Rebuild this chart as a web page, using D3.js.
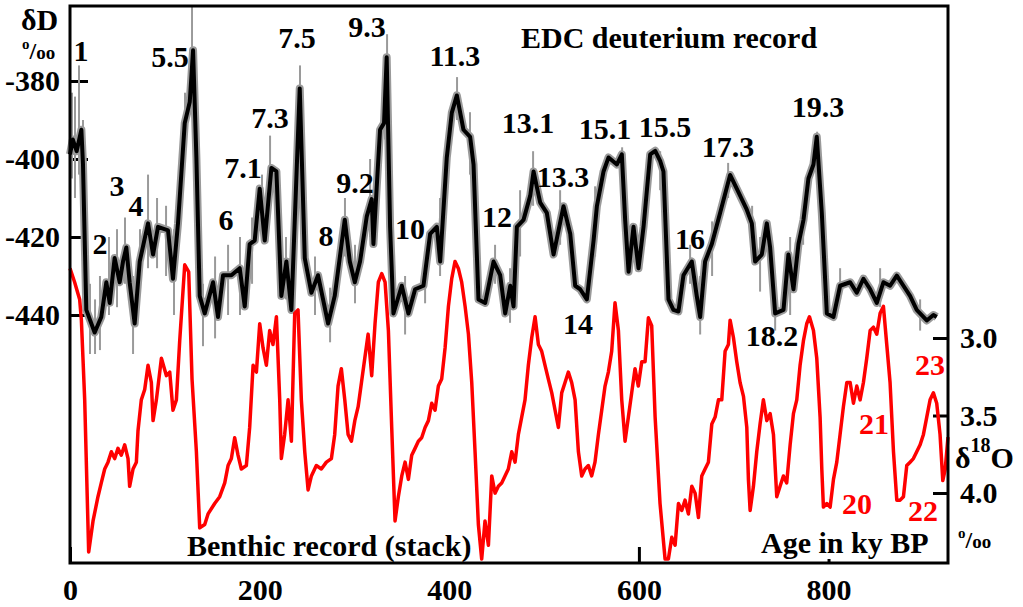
<!DOCTYPE html>
<html><head><meta charset="utf-8">
<script src="https://cdn.jsdelivr.net/npm/d3@7"></script>
<style>
body{margin:0;background:#fff}
svg{display:block}
text{font-family:"Liberation Serif","Times New Roman",serif;font-weight:bold}
</style>
</head><body>
<svg id="c" width="1023" height="607"></svg>
<script>
// ---- data ----
const blackAge=[0,3,7,12,13.7,17.2,26,33,38.3,41.9,47.1,52.4,55.9,59.4,62.9,68.2,73.5,82.3,87.6,92.8,103.4,108.6,113.9,121,126.3,129.8,133.3,136.8,142.1,150.9,156.1,161.4,170.2,179,184.3,189.5,194.8,200.1,205.4,212.4,217.7,222.9,228.2,233.5,242.3,247.6,254.6,261.6,272.2,279.2,289.8,295.1,300.4,305.9,313,318.2,320,327,331.2,334,337.6,341.1,349.9,356.9,364,372.8,379.8,386.9,390.4,397.4,402.7,408,415,422,425.6,430.8,437.9,446.7,453.7,459,464.3,467.8,471.3,478.3,485.4,488.9,495.9,502.9,510,520.5,527.6,532.8,538.1,545.1,552.2,555.7,562.7,568,576.8,582,585.5,589.1,594.3,599.6,604.9,611.9,617.2,622.4,625.9,631.2,636.4,641.7,647,655.8,661,664.6,669.8,676.9,685.7,696.2,703.2,713.8,719.1,722.6,729.6,734.9,738.4,743.7,752.5,757.7,763,768.3,773.6,778.8,784.1,787.6,792.9,798.2,805.2,812.2,822.8,829.8,836.8,843.9,850.9,857.9,864.9,872,879,886,893,903.6,910.6,914.1];
const blackDD=[-398.8,-395,-398,-392.5,-401.4,-438.7,-444.5,-440.5,-431.6,-436.9,-425.4,-431.6,-426.3,-422.7,-431.6,-442.2,-426.3,-416.5,-424.5,-417.4,-418.3,-430.7,-416.5,-390.8,-385.4,-372.1,-399.6,-435.1,-439.6,-431.6,-440.5,-429.8,-429.8,-428.0,-437.8,-421.8,-420.9,-407.6,-420.9,-402.3,-403.2,-435.1,-426.3,-438.7,-381.9,-425.4,-434.3,-429.8,-442.2,-435.1,-415.6,-426.3,-431.6,-426.3,-414.7,-410.3,-421.8,-392.5,-390.8,-373.9,-417.4,-439.6,-432.5,-439.6,-433.4,-432.5,-419.2,-417.4,-426.3,-399.6,-388.1,-383.7,-392.5,-394.3,-401.4,-436.0,-436.9,-426.3,-429.8,-439.6,-432.5,-437.8,-417.4,-415.6,-409.4,-403.2,-411.2,-413.8,-424.5,-412.1,-419.2,-432.5,-433.4,-436.0,-420.9,-412.1,-403.2,-399.6,-401.4,-398.8,-415.6,-428.9,-417.4,-428.0,-417.4,-398.8,-397.9,-400.5,-403.2,-436.0,-438.7,-439.1,-429.8,-426.3,-435.1,-440.5,-426.3,-421.8,-413.8,-404.1,-407.6,-413.0,-416.5,-426.3,-424.5,-416.5,-422.7,-439.6,-438.7,-424.5,-433.4,-421.8,-415.6,-405.0,-401.4,-394.3,-413.8,-439.6,-440.5,-432.5,-431.6,-434.3,-430.7,-433.4,-436.9,-431.6,-432.5,-429.9,-432.5,-435.1,-438.7,-441.4,-440.0,-440.5];

const redAge=[0,4.9,10.2,12,15.5,19.7,24.3,29.5,33,36.6,40.1,43.6,47.1,50.6,54.1,57.7,61.2,62.9,66.5,70,71.7,75.2,78.8,82.3,85.8,87.6,91.1,96.4,101.7,105.2,108.6,112.2,115.7,121,125.2,128.7,133.3,136.8,142.1,145.6,152.6,157.9,163.2,166.7,170.2,173.7,177.2,180.7,186,189.5,193.1,196.6,200.1,203.6,207.1,210.6,214.1,217.7,221.2,222.9,226.4,230,233.5,237,240.5,244,247.6,251.1,254.6,259.8,265.1,270.4,275.7,279.2,282.7,286.2,289.8,293.3,296.8,300.4,303.9,307.4,310.9,314.4,318.2,321.7,325.2,328.8,332.3,335.8,339.3,342.8,346.3,349.9,353.4,356.9,360.4,363.9,367.4,370.9,374.5,378,381.5,385,388.5,392,395.6,399.1,402.6,406.1,409.6,413.1,416.7,420.2,423.7,427.2,430.7,434.2,437.7,441.3,444.8,448.3,451.8,455.3,458.8,462.3,465.9,469.4,472.9,476.4,479.9,483.4,487,490.5,494,497.5,501,504.5,508.1,511.6,515.1,518.6,522.1,525.6,529.1,532.7,536.2,539.7,543.2,546.7,550.2,553.7,557.3,560.8,564.3,567.8,571.3,574.8,578.4,581.9,585.4,588.9,592.4,595.9,599.4,603,606.5,610,613.5,617.1,622.3,627.6,631.1,634.7,638.2,641.7,645.2,648.7,652.2,655.8,659.3,662.8,666.3,669.8,673.3,676.9,680.4,683.9,687.4,690.9,694.4,696.2,699.7,703.2,706.7,710.3,713.8,715.5,717.3,720.8,724.3,727.8,731.3,734.9,738.4,741.9,745.4,748.9,752.4,755.9,759.5,763,766.5,770,773.5,777,779.9,784.1,787.6,791.1,792.9,794.6,798.2,801.7,805.2,808.7,812.2,815.7,819.3,822.8,826.3,829.8,833.3,836.8,840.3,843.9,847.4,850.9,854.4,857.9,861.4,864.9,868.5,872,875.5,879,882.5,886,889.5,893,896.6,900.1,903.6,907.1,910.6,914.1,917.6,920.5,923,926];
const redO18=[2.551,2.640,2.752,2.885,3.399,4.381,4.180,4.024,3.935,3.845,3.801,3.734,3.778,3.712,3.756,3.689,3.778,3.957,3.845,3.801,3.600,3.399,3.332,3.176,3.287,3.533,3.399,3.131,3.243,3.220,3.466,3.399,3.019,2.528,2.573,3.265,3.734,4.225,4.203,4.135,4.068,4.024,3.935,3.823,3.778,3.644,3.756,3.845,3.823,3.577,3.176,3.220,2.908,3.064,3.176,2.952,3.042,2.863,3.399,3.778,3.622,3.399,3.666,2.841,2.819,3.399,3.734,3.980,3.890,3.823,3.845,3.801,3.778,3.622,3.310,3.198,3.399,3.622,3.666,3.533,3.443,3.287,3.131,2.975,3.243,2.908,2.640,2.584,2.640,2.952,3.577,4.180,4.024,3.890,3.801,3.912,3.756,3.712,3.666,3.644,3.577,3.533,3.421,3.466,3.310,3.265,3.064,2.796,2.617,2.506,2.551,2.640,2.796,2.975,3.287,3.734,4.203,4.426,4.180,4.337,3.890,4.001,3.957,3.935,3.890,3.845,3.734,3.801,3.622,3.510,3.399,3.176,2.997,2.863,3.042,3.086,3.176,3.265,3.354,3.466,3.577,3.354,3.287,3.220,3.287,3.399,3.734,3.890,3.845,3.823,3.890,3.801,3.622,3.466,3.310,3.220,3.086,2.773,2.952,3.399,3.666,3.510,3.354,3.198,3.310,3.153,3.153,2.870,2.920,3.510,4.068,4.426,4.426,4.286,4.337,4.068,4.113,4.046,4.135,3.957,4.001,4.158,3.890,3.845,3.801,3.555,3.510,3.399,3.399,3.086,3.042,2.885,2.997,3.153,3.287,3.377,3.577,3.912,4.113,3.957,3.734,3.555,3.399,3.533,3.488,3.622,4.024,3.957,3.890,3.935,3.689,3.488,3.399,3.176,3.019,2.908,2.863,2.952,3.131,3.510,3.845,4.091,4.068,4.091,3.912,3.801,3.622,3.443,3.287,3.287,3.421,3.310,3.399,3.287,3.131,2.952,2.930,2.975,2.841,2.796,3.042,3.287,3.734,4.046,4.046,4.024,3.823,3.801,3.778,3.734,3.689,3.622,3.510,3.399,3.354,3.421,3.622,3.920,3.850,3.640];

// high-resolution (grey) record: spike extremes
const spikeAge=[2.1,5.3,9.5,13.7,21.1,26.4,31.6,41.1,49.6,58,66.5,73.8,82.3,91.8,101.3,109.7,121.3,128.7,140.3,153,166.7,179.3,192,202.5,211,227.8,242.6,258.4,274.3,290,300.6,316.5,332.3,334.4,353.4,374.5,390.3,408.2,421.9,448.3,464.1,474.7,488.4,516.9,553.8,582.3,622.4,654,664.6,677.2,694.1,719.4,727.8,743.7,759.5,773.2,788,812.2,854.4,896.6];
const spikeLo=[-405,-410,-404,-415,-450,-450,-449,-440,-438,-432,-450,-434,-428,-428,-430,-440,-398,-380,-448,-446,-440,-440,-432,-415,-410,-436,-395,-440,-447,-425,-437,-420,-395,-378,-445,-437,-430,-390,-404,-432,-442,-425,-412,-422,-425,-405,-408,-432,-445,-430,-410,-420,-434,-444,-440,-422,-402,-436,-438,-444];
const spikeHi=[-383,-384,-376,-390,-432,-436,-430,-420,-418,-415,-430,-418,-404,-410,-412,-418,-383,-361,-432,-425,-422,-420,-415,-404,-394,-420,-376,-425,-433,-410,-422,-400,-378,-368,-430,-425,-410,-379,-388,-422,-428,-408,-398,-408,-407,-397,-398,-422,-430,-416,-401,-412,-420,-436,-420,-410,-393,-428,-428,-436];

const xTicks=[0,200,400,600,800];
const xTickLabels=["0","200","400","600","800"];
const ddTicks=[-380,-400,-420,-440];
const ddTickLabels=["-380","-400","-420","-440"];
const o18Ticks=[3.0,3.5,4.0];
const o18TickLabels=["3.0","3.5","4.0"];

// stage labels on the deuterium curve (age, δD of label baseline)
const dLabelText=["1","2","3","4","5.5","6","7.1","7.3","7.5","8","9.2","9.3","10","11.3","12","13.1","13.3","14","15.1","15.5","16","17.3","18.2","19.3"];
const dLabelAge=[11.6,31.6,49.6,69.6,105.5,164.5,182.5,210.9,239.4,270.0,300.6,313.2,358.6,406.0,450.3,483.0,519.9,535.7,564.2,627.5,653.9,693.9,740.4,788.9];
const dLabelVal=[-374.9,-424.4,-409.5,-414.6,-376.4,-418.2,-404.9,-392.1,-371.5,-422.3,-408.7,-368.7,-420.5,-376.2,-417.4,-393.3,-407.2,-444.9,-394.9,-394.4,-423.1,-399.5,-447.9,-389.2];
// stage labels on the benthic curve (age, δ18O of label baseline)
const oLabelText=["20","21","22","23"];
const oLabelAge=[830.0,847.9,899.6,907.0];
const oLabelVal=[4.135,3.619,4.181,3.239];

// ---- drawing ----
const svg=d3.select("#c");
const L=70,R=948,T=6,B=563;
const x=d3.scaleLinear().domain([0,926]).range([L,R]);
const yD=d3.scaleLinear().domain([-440,-380]).range([315,81]);
const yO=d3.scaleLinear().domain([3.0,4.0]).range([338,493]);
const FS=30;

// axes
const ax=svg.append("g").attr("transform",`translate(${L},0)`)
  .call(d3.axisLeft(yD).tickValues(ddTicks).tickFormat((d,i)=>ddTickLabels[i]).tickSizeInner(-18).tickSizeOuter(0).tickPadding(10));
const axR=svg.append("g").attr("transform",`translate(${R},0)`)
  .call(d3.axisRight(yO).tickValues(o18Ticks).tickFormat((d,i)=>o18TickLabels[i]).tickSizeInner(-15).tickSizeOuter(0).tickPadding(12));
const axB=svg.append("g").attr("transform",`translate(0,${B})`)
  .call(d3.axisBottom(x).tickValues(xTicks).tickFormat((d,i)=>xTickLabels[i]).tickSizeInner(-16).tickSizeOuter(0).tickPadding(16));
[ax,axR,axB].forEach(g=>{
  g.select(".domain").remove();
  g.attr("font-family",null).attr("font-size",null);
  g.selectAll("line").attr("stroke","#000").attr("stroke-width",3);
  g.selectAll("text").attr("fill","#000").style("font-size",FS+"px");
});

const curves=svg.append("g").attr("class","curves");
// text boxes that mask the bottom ticks
function boxedText(tx,ty,str){
  const t=svg.append("text").attr("x",tx).attr("y",ty).style("font-size",FS+"px").text(str);
  const bb=t.node().getBBox();
  svg.insert("rect","g.curves").attr("x",bb.x-2).attr("y",bb.y).attr("width",bb.width+4).attr("height",bb.height).attr("fill","#fff");
  return t;
}

// grey high-resolution record
const lineD=d3.line().x((d,i)=>x(blackAge[i])).y((d,i)=>yD(blackDD[i]));
curves.append("path").datum(blackDD).attr("d",lineD).attr("fill","none").attr("stroke","#9a9a9a").attr("stroke-width",8).attr("stroke-linejoin","round");
curves.selectAll("line.spike").data(spikeAge).join("line").attr("class","spike")
  .attr("x1",d=>x(d)).attr("x2",d=>x(d))
  .attr("y1",(d,i)=>yD(spikeLo[i])).attr("y2",(d,i)=>yD(spikeHi[i]))
  .attr("stroke","#9a9a9a").attr("stroke-width",2);
// black smoothed record
curves.append("path").datum(blackDD).attr("d",lineD).attr("fill","none").attr("stroke","#000").attr("stroke-width",4).attr("stroke-linejoin","round");
// red benthic stack
const lineO=d3.line().x((d,i)=>x(redAge[i])).y((d,i)=>yO(redO18[i]));
curves.append("path").datum(redO18).attr("d",lineO).attr("fill","none").attr("stroke","#f00").attr("stroke-width",3.5).attr("stroke-linejoin","round");

// frame
svg.append("rect").attr("x",L).attr("y",T).attr("width",R-L).attr("height",B-T).attr("fill","none").attr("stroke","#000").attr("stroke-width",3);

// titles
svg.append("text").attr("x",521).attr("y",48).style("font-size",FS+"px").text("EDC deuterium record");
boxedText(187,556,"Benthic record (stack)");
boxedText(761,553,"Age in ky BP");

// stage labels
svg.selectAll("text.dl").data(dLabelText).join("text").attr("class","dl")
  .attr("x",(d,i)=>x(dLabelAge[i])).attr("y",(d,i)=>yD(dLabelVal[i]))
  .attr("text-anchor","middle").style("font-size",FS+"px").text(d=>d);
svg.selectAll("text.ol").data(oLabelText).join("text").attr("class","ol")
  .attr("x",(d,i)=>x(oLabelAge[i])).attr("y",(d,i)=>yO(oLabelVal[i]))
  .attr("text-anchor","middle").attr("fill","#f00").style("font-size",FS+"px").text(d=>d);

// axis titles
svg.append("text").attr("x",21).attr("y",30).style("font-size",FS+"px").text("δD");
function permil(px,py){
  const t=svg.append("text").attr("x",px).attr("y",py);
  t.append("tspan").attr("dy",-10).style("font-size","15px").text("o");
  t.append("tspan").attr("dy",10).style("font-size","24px").text("/");
  t.append("tspan").style("font-size","19px").text("oo");
}
permil(22,59);
permil(958,548);
const d18=svg.append("text").attr("x",955).attr("y",468).style("font-size",FS+"px");
d18.append("tspan").text("δ");
d18.append("tspan").attr("dy",-16).style("font-size","20px").text("18");
d18.append("tspan").attr("dy",16).text("O");
</script>
</body></html>
